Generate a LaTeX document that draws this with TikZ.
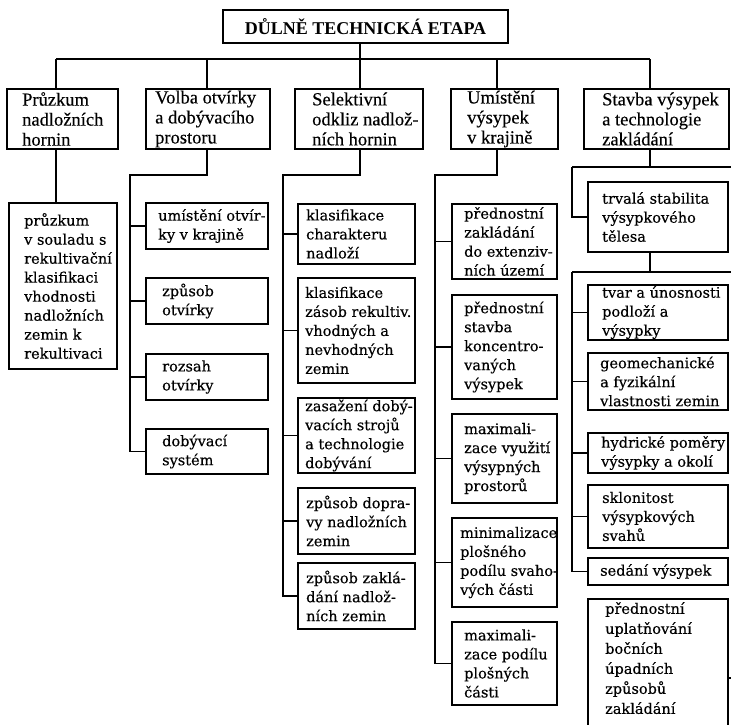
\documentclass[tikz,border=0pt]{standalone}
\usepackage{fontspec}
\newfontfamily\tfont[FakeBold=0.3]{Liberation Serif}
\newfontfamily\tbfont{Liberation Serif}
\newfontfamily\cfont[FakeBold=0.4]{DejaVu Serif}
\tikzset{
 cframe/.style={draw, line width=1.3pt, inner sep=0pt, outer sep=0pt},
 lframe/.style={draw, line width=1.9pt, inner sep=0pt, outer sep=0pt},
 ctxt/.style={inner sep=0pt, align=left, font=\cfont\fontsize{14.5}{19}\selectfont},
 ltxt/.style={inner sep=0pt, align=left, font=\tfont\fontsize{18.5}{20}\selectfont},
 conn/.style={line width=1.3pt},
}
% #1 name, #2 x, #3 y top, #4 width, #5 height, #6 left pad, #7 style prefix, #8 text
\newcommand\mybox[8]{%
  \node[#7frame, minimum width=#4, minimum height=#5, anchor=north west] (#1) at (#2,-#3) {};
  \node[#7txt, anchor=west] (#1t) at ([xshift=#6]#1.west) {#8};}
\begin{document}
\begin{tikzpicture}[x=1pt,y=1pt]
\useasboundingbox (0,0) rectangle (731,-724);
\clip (0,0) rectangle (731,-724);
% title
\node[lframe, minimum width=285, minimum height=33, font=\tbfont\bfseries\fontsize{18}{20}\selectfont] (T) at (365.5,-26.5) {DŮLNĚ TECHNICKÁ ETAPA};
% bus coordinates
\coordinate (d1) at (56,-59);
\coordinate (d2) at (207,-59);
\coordinate (d3) at (360,-59);
\coordinate (d4) at (497,-59);
\coordinate (d5) at (650,-59);
% level 1
\mybox{L1}{7}{89}{111}{60}{15}{l}{Průzkum\\nadložních\\hornin}
\mybox{L2}{146}{89}{124}{60}{9}{l}{Volba otvírky\\a dobývacího\\prostoru}
\mybox{L3}{295}{89}{128}{60}{17}{l}{Selektivní\\odkliz nadlož-\\ních hornin}
\mybox{L4}{451}{89}{107}{60}{16}{l}{Umístění\\výsypek\\v krajině}
\mybox{L5}{584}{89}{145}{60}{18}{l}{Stavba výsypek\\a technologie\\zakládání}
% column 1
\mybox{b11}{9}{203}{108}{166}{15}{c}{průzkum\\v souladu s\\rekultivační\\klasifikaci\\vhodnosti\\nadložních\\zemin k\\rekultivaci}
% column 2
\mybox{b21}{146}{203}{122}{46}{12}{c}{umístění otvír-\\ky v krajině}
\mybox{b22}{146}{278}{122}{46}{16}{c}{způsob\\otvírky}
\mybox{b23}{146}{354}{122}{46}{16}{c}{rozsah\\otvírky}
\mybox{b24}{146}{429}{122}{45}{16}{c}{dobývací\\systém}
% column 3
\mybox{b31}{298}{204}{117}{60}{8}{c}{klasifikace\\charakteru\\nadloží}
\mybox{b32}{298}{278}{117}{105}{7}{c}{klasifikace\\zásob rekultiv.\\vhodných a\\nevhodných\\zemin}
\mybox{b33}{298}{398}{117}{75}{7}{c}{zasažení dobý-\\vacích strojů\\a technologie\\dobývání}
\mybox{b34}{298}{488}{117}{66}{8}{c}{způsob dopra-\\vy nadložních\\zemin}
\mybox{b35}{298}{563}{117}{66}{8}{c}{způsob zaklá-\\dání nadlož-\\ních zemin}
% column 4
\mybox{b41}{452}{204}{105}{75}{12}{c}{přednostní\\zakládání\\do extenziv-\\ních území}
\mybox{b42}{452}{295}{105}{104}{12}{c}{přednostní\\stavba\\koncentro-\\vaných\\výsypek}
\mybox{b43}{452}{414}{105}{89}{12}{c}{maximali-\\zace využití\\výsypných\\prostorů}
\mybox{b44}{452}{518}{105}{89}{8}{c}{minimalizace\\plošného\\podílu svaho-\\vých části}
\mybox{b45}{452}{622}{105}{83}{12}{c}{maximali-\\zace podílu\\plošných\\části}
% column 5
\mybox{b51}{588}{182}{140}{70}{14}{c}{trvalá stabilita\\výsypkového\\tělesa}
\mybox{b52}{588}{285}{140}{55}{14}{c}{tvar a únosnosti\\podloží a\\výsypky}
\mybox{b53}{588}{353}{140}{57}{12}{c}{geomechanické\\a fyzikální\\vlastnosti zemin}
\mybox{b54}{588}{433}{140}{40}{13}{c}{hydrické poměry\\výsypky a okolí}
\mybox{b55}{588}{485}{140}{63}{14}{c}{sklonitost\\výsypkových\\svahů}
\mybox{b56}{588}{558}{140}{27}{12}{c}{sedání výsypek}
\node[cframe, minimum width=140, minimum height=140, anchor=north west] (b57) at (588,-599) {};
\node[ctxt, anchor=north west, font=\cfont\fontsize{14.5}{20}\selectfont] (b57t) at ([xshift=17, yshift=-3]b57.north west) {přednostní\\uplatňování\\bočních\\úpadních\\způsobů\\zakládání};
% connectors top
\draw[conn] (d1) -- (d5);
\draw[conn] (T.south -| d3) -- (L3.north -| d3);
\draw[conn] (d1) -- (L1.north -| d1);
\draw[conn] (d2) -- (L2.north -| d2);
\draw[conn] (d4) -- (L4.north -| d4);
\draw[conn] (d5) -- (L5.north -| d5);
% column 1
\draw[conn] (L1.south -| d1) -- (b11.north -| d1);
% column 2
\coordinate (k2) at (130,-175);
\draw[conn] (L2.south -| d2) |- (k2) |- (b24.west);
\foreach \b in {b21,b22,b23} \draw[conn] (k2 |- \b.west) -- (\b.west);
% column 3
\coordinate (k3) at (283,-175);
\draw[conn] (L3.south -| d3) |- (k3) |- (b35.west);
\foreach \b in {b31,b32,b33,b34} \draw[conn] (k3 |- \b.west) -- (\b.west);
% column 4
\coordinate (k4) at (435,-175);
\draw[conn] (L4.south -| d4) |- (k4) |- (b45.west);
\foreach \b in {b41,b42,b43,b44} \draw[conn] (k4 |- \b.west) -- (\b.west);
% column 5
\coordinate (k5) at (572,-167);
\coordinate (e5) at (731,-167);
\draw[conn] (L5.south -| d5) -- (d5 |- k5);
\draw[conn] (k5) -- (e5);
\draw[conn] (k5) |- (b51.west);
\coordinate (m5) at (572,-272);
\coordinate (f5) at (731,-272);
\draw[conn] (b51.south -| d5) -- (d5 |- m5);
\draw[conn] (m5) -- (f5);
\draw[conn] (m5) |- (b56.west);
\foreach \b in {b52,b53,b54,b55} \draw[conn] (m5 |- \b.west) -- (\b.west);
\coordinate (g5) at (731,-678);
\draw[conn] (b57.east |- g5) -- (g5);
\end{tikzpicture}
\end{document}
